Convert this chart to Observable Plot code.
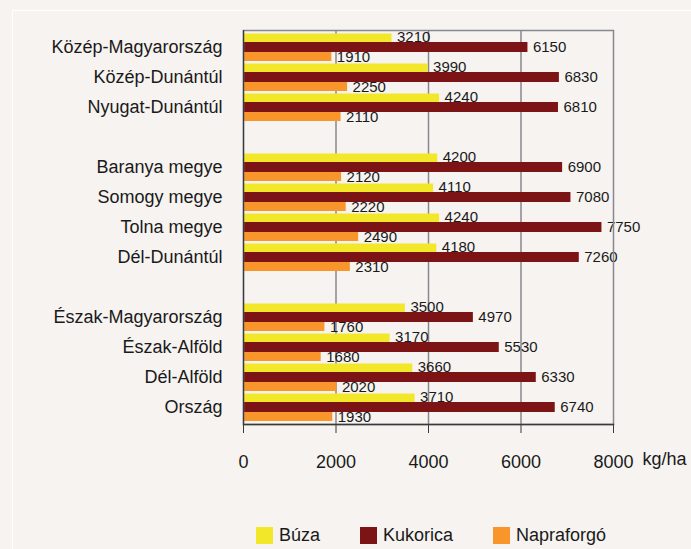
<!DOCTYPE html>
<html><head><meta charset="utf-8">
<script src="https://cdn.jsdelivr.net/npm/d3@7"></script>
<script src="https://cdn.jsdelivr.net/npm/@observablehq/plot@0.6"></script>
<style>
html,body{margin:0;padding:0;background:#f6f3f0;}
#wrap{position:relative;width:691px;height:549px;overflow:hidden;background:#f6f3f0;font-family:"Liberation Sans",Arial,sans-serif;}
#panel{position:absolute;left:12px;top:10px;width:720px;height:600px;border:1px solid #ffffff;box-sizing:border-box;}
#chart{position:absolute;left:0;top:0;}
#legend{position:absolute;left:256px;top:525px;}
#legend > div{margin:0 !important;min-height:0 !important;}
.lg-swatch{margin-right:40px !important;line-height:20px;}
.lg-swatch > svg{margin-right:6px !important;}
</style></head>
<body>
<div id="wrap"><div id="panel"></div><div id="chart"></div><div id="legend"></div></div>
<script>
const rows = ["Közép-Magyarország","Közép-Dunántúl","Nyugat-Dunántúl","","Baranya megye","Somogy megye","Tolna megye","Dél-Dunántúl","","Észak-Magyarország","Észak-Alföld","Dél-Alföld","Ország"];
const regions = ["Közép-Magyarország","Közép-Dunántúl","Nyugat-Dunántúl","Baranya megye","Somogy megye","Tolna megye","Dél-Dunántúl","Észak-Magyarország","Észak-Alföld","Dél-Alföld","Ország"];
const series = ["Búza","Kukorica","Napraforgó"];
const colors = ["#f2e829","#7c1315","#f8962b"];
const buza = [3210,3990,4240,4200,4110,4240,4180,3500,3170,3660,3710];
const kukorica = [6150,6830,6810,6900,7080,7750,7260,4970,5530,6330,6740];
const napraforgo = [1910,2250,2110,2120,2220,2490,2310,1760,1680,2020,1930];
const xTicks = [0,2000,4000,6000,8000];
const unit = "kg/ha";

const values = [buza, kukorica, napraforgo];
const data = regions.flatMap((r,i)=>series.map((s,j)=>({key:`${rows.indexOf(r)}|${s}`, series:s, value:values[j][i]})));
const yDomain = rows.flatMap((r,i)=>series.map(s=>`${i}|${s}`));
const labelKeys = regions.map(r=>`${rows.indexOf(r)}|${series[1]}`);

const gray = "#87888f", dark = "#3a3a3a";
const chart = Plot.plot({
  width: 691, height: 500,
  marginLeft: 243, marginRight: 78, marginTop: 30, marginBottom: 76,
  style: {background:"transparent", fontFamily:"'Liberation Sans', Arial, sans-serif", fontSize:"17.5px", color:"#1a1a1a"},
  x: {domain:[xTicks[0], xTicks[xTicks.length-1]], label:null},
  y: {type:"band", domain:yDomain, padding:0, label:null},
  color: {domain:series, range:colors},
  marks: [
    Plot.gridX({ticks: xTicks.slice(1,-1), stroke: gray, strokeOpacity:1, strokeWidth:1.5}),
    ...series.map((s,j)=>Plot.barX(data.filter(d=>d.series===s), {x:"value", y:"key", fill:"series", insetTop: j===0?1.5:0, insetBottom: j===2?1:0})),
    Plot.text(data, {x:"value", y:"key", text:d=>String(d.value), dx:5, textAnchor:"start", fontSize:15, fill:"#1a1a1a"}),
    Plot.frame({stroke: gray, strokeWidth:1.5}),
    Plot.ruleX([xTicks[0]], {stroke: dark, strokeWidth:1.3}),
    Plot.frame({anchor:"bottom", stroke: dark, strokeWidth:1.3}),
    Plot.axisY({ticks: labelKeys, tickFormat: k=>rows[+k.split("|")[0]], tickSize:0, tickPadding:21, fontSize:18, label:null}),
    Plot.axisX({ticks: xTicks, tickFormat:"d", tickSize:9, tickPadding:22, fontSize:18, stroke: dark, label:null}),
    Plot.text([unit], {frameAnchor:"bottom-right", text:d=>d, textAnchor:"start", dx:29, dy:40, fontSize:18, fill:"#1a1a1a"})
  ]
});
document.getElementById("chart").append(chart);
const lg = Plot.legend({color:{domain:series, range:colors}, swatchSize:17, className:"lg", style:{fontSize:"18px", fontFamily:"'Liberation Sans', Arial, sans-serif", color:"#1a1a1a", background:"transparent"}});
document.getElementById("legend").append(lg);
</script>
</body></html>
